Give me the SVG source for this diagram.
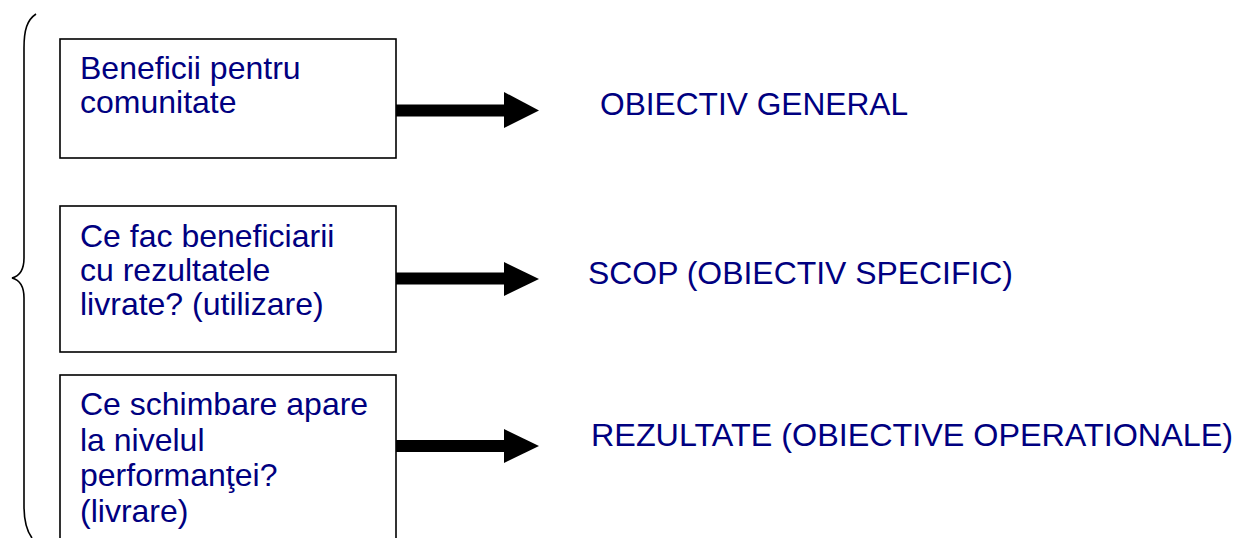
<svg xmlns="http://www.w3.org/2000/svg" width="1236" height="538" viewBox="0 0 1236 538">
<style>
.box{fill:#fff;stroke:#000;stroke-width:1.6}
.t{font-family:"Liberation Sans",Arial,sans-serif;font-size:32px;fill:#000080}
.shaft{stroke:#000;stroke-width:12;fill:none}
.head{fill:#000}
</style>
<rect width="1236" height="538" fill="#fff"/>
<path id="brace" d="M36,14 C27,20 24,30 24,48 L24,258 C24,270 20,276 12,278 C20,280 24,286 24,298 L24,506 C24,520 26,530 32,538" fill="none" stroke="#000" stroke-width="1.6"/>
<g id="node1">
<rect class="box" x="60" y="39" width="336" height="119"/>
<text class="t" x="80" y="79">Beneficii pentru</text>
<text class="t" x="80" y="113">comunitate</text>
</g>
<g id="node2">
<rect class="box" x="60" y="206" width="336" height="146"/>
<text class="t" x="80" y="247">Ce fac beneficiarii</text>
<text class="t" x="80" y="281">cu rezultatele</text>
<text class="t" x="80" y="315">livrate? (utilizare)</text>
</g>
<g id="node3">
<rect class="box" x="60" y="375" width="336" height="180"/>
<text class="t" x="80" y="415">Ce schimbare apare</text>
<text class="t" x="80" y="451">la nivelul</text>
<text class="t" x="80" y="486">performanţei?</text>
<text class="t" x="80" y="522">(livrare)</text>
</g>
<g id="label1"><text class="t" x="600" y="115" textLength="308" lengthAdjust="spacingAndGlyphs">OBIECTIV GENERAL</text></g>
<g id="label2"><text class="t" x="588" y="284" textLength="425" lengthAdjust="spacingAndGlyphs">SCOP (OBIECTIV SPECIFIC)</text></g>
<g id="label3"><text class="t" x="591" y="446" textLength="642" lengthAdjust="spacingAndGlyphs">REZULTATE (OBIECTIVE OPERATIONALE)</text></g>
<g id="connectors">
<line class="shaft" x1="396" y1="110.5" x2="506" y2="110.5"/>
<polygon class="head" points="504,92 539,110.5 504,128"/>
<line class="shaft" x1="396" y1="278.5" x2="506" y2="278.5"/>
<polygon class="head" points="504,262 539,279 504,296"/>
<line class="shaft" x1="396" y1="446" x2="506" y2="446"/>
<polygon class="head" points="504,429 539,446 504,463"/>
</g>
</svg>
